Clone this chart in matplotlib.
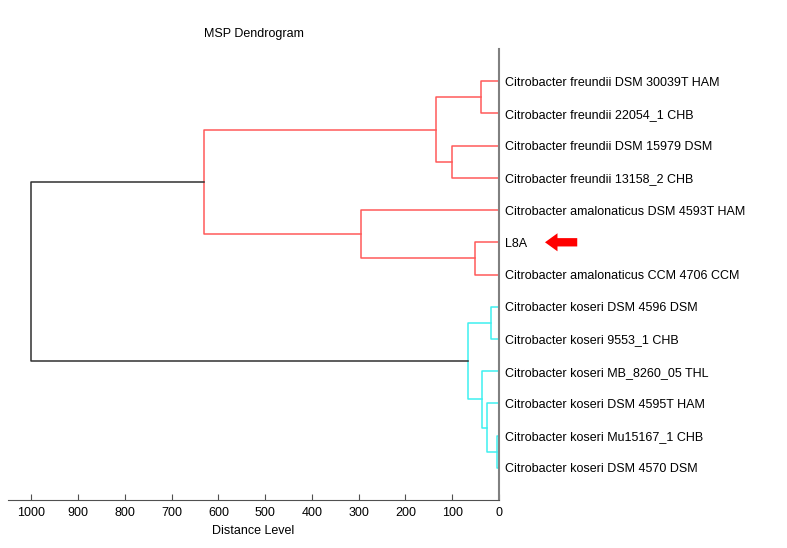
import matplotlib
matplotlib.use("Agg")
import matplotlib.pyplot as plt

plt.rcParams["font.family"] = ["Liberation Sans", "DejaVu Sans"]

# leaves, top to bottom
leaves = [
    "Citrobacter freundii DSM 30039T HAM",
    "Citrobacter freundii 22054_1 CHB",
    "Citrobacter freundii DSM 15979 DSM",
    "Citrobacter freundii 13158_2 CHB",
    "Citrobacter amalonaticus DSM 4593T HAM",
    "L8A",
    "Citrobacter amalonaticus CCM 4706 CCM",
    "Citrobacter koseri DSM 4596 DSM",
    "Citrobacter koseri 9553_1 CHB",
    "Citrobacter koseri MB_8260_05 THL",
    "Citrobacter koseri DSM 4595T HAM",
    "Citrobacter koseri Mu15167_1 CHB",
    "Citrobacter koseri DSM 4570 DSM",
]

# merges: (left, right, distance, colour) - ints are leaf indices, strings are cluster names
merges = {
    "f1": (0, 1, 39, "red"),
    "f2": (2, 3, 101, "red"),
    "f": ("f1", "f2", 135, "red"),
    "a1": (5, 6, 51, "red"),
    "a": (4, "a1", 295, "red"),
    "r": ("f", "a", 630, "red"),
    "k1": (7, 8, 18, "cyan"),
    "k2": (11, 12, 5, "cyan"),
    "k3": (10, "k2", 25, "cyan"),
    "k4": (9, "k3", 36, "cyan"),
    "k": ("k1", "k4", 66, "cyan"),
    "root": ("r", "k", 1000, "black"),
}

colours = {"red": "#ff5a5a", "cyan": "#3ff0f0", "black": "#303030"}

fig = plt.figure(figsize=(7.87, 5.48), dpi=100)
ax = fig.add_axes([8 / 787, 48 / 548, 491 / 787, 451 / 548])

pos = {}


def node(n):
    if isinstance(n, int):
        return n + 1, 0
    return pos[n]


for name, (l, r, d, c) in merges.items():
    yl, dl = node(l)
    yr, dr = node(r)
    ax.plot([dl, d, d, dr], [yl, yl, yr, yr], color=colours[c], lw=1.1)
    pos[name] = ((yl + yr) / 2, d)

ax.set_xlim(1050, 0)
ax.set_ylim(len(leaves) + 1, 0)
ax.set_xticks(range(0, 1001, 100))
ax.tick_params(axis="x", direction="in", length=4, labelsize=9, color="#505050", pad=5)
ax.yaxis.tick_right()
ax.set_yticks(range(1, len(leaves) + 1))
ax.set_yticklabels(leaves, fontsize=9)
ax.tick_params(axis="y", length=0, pad=4)
for s in ["top", "left"]:
    ax.spines[s].set_visible(False)
ax.spines["right"].set_color("#808080")
ax.spines["right"].set_linewidth(1.5)
ax.spines["bottom"].set_color("#505050")
ax.set_xlabel("Distance Level", fontsize=9, labelpad=4)
ax.set_title("MSP Dendrogram", fontsize=9, pad=9)

# red arrow pointing at L8A
yl8 = leaves.index("L8A") + 1
ax.annotate("", xy=(1.088, yl8), xytext=(1.165, yl8),
            xycoords=("axes fraction", "data"), textcoords=("axes fraction", "data"),
            arrowprops=dict(arrowstyle="simple,head_length=0.9,head_width=1.3,tail_width=0.6",
                            color="#ff0000", lw=0), annotation_clip=False)

fig.savefig("out.png", dpi=100)
